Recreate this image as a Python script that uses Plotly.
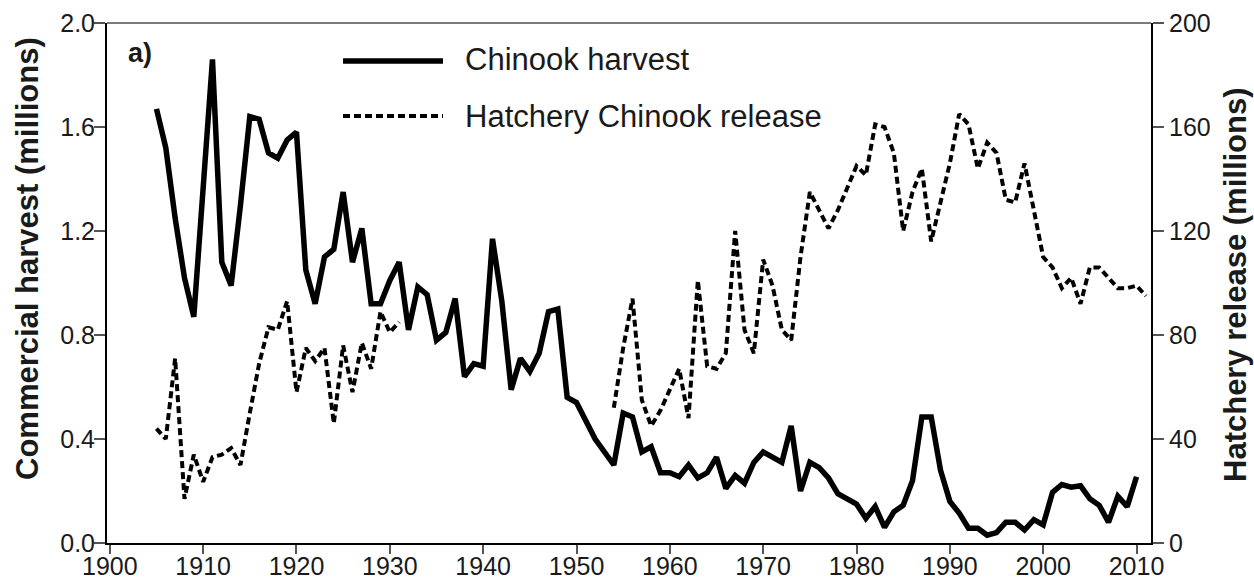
import plotly.graph_objects as go

# Chinook commercial harvest (millions of fish), 1905-2010
harvest_years = list(range(1905, 2011))
harvest_millions = [
    1.67, 1.52, 1.25, 1.02, 0.87, 1.35, 1.86, 1.08, 0.99, 1.30,   # 1905-1914
    1.64, 1.63, 1.50, 1.48, 1.55, 1.58, 1.05, 0.92, 1.10, 1.13,   # 1915-1924
    1.35, 1.08, 1.21, 0.92, 0.92, 1.01, 1.08, 0.82, 0.985, 0.955, # 1925-1934
    0.78, 0.81, 0.94, 0.64, 0.69, 0.68, 1.17, 0.93, 0.59, 0.71,   # 1935-1944
    0.66, 0.73, 0.89, 0.90, 0.56, 0.54, 0.47, 0.40, 0.35, 0.30,   # 1945-1954
    0.50, 0.485, 0.35, 0.37, 0.27, 0.27, 0.255, 0.30, 0.25, 0.27, # 1955-1964
    0.33, 0.21, 0.26, 0.23, 0.31, 0.35, 0.33, 0.31, 0.45, 0.20,   # 1965-1974
    0.31, 0.29, 0.25, 0.19, 0.17, 0.15, 0.095, 0.14, 0.06, 0.12,  # 1975-1984
    0.145, 0.24, 0.485, 0.485, 0.28, 0.16, 0.115, 0.057, 0.057, 0.03,  # 1985-1994
    0.04, 0.08, 0.08, 0.05, 0.09, 0.07, 0.195, 0.225, 0.215, 0.22,     # 1995-2004
    0.17, 0.145, 0.08, 0.18, 0.14, 0.255,                               # 2005-2010
]

# Hatchery Chinook releases (millions of fish), 1905-2011; no record 1932-1953
release_years = list(range(1905, 2012))
release_millions = (
    [44, 40, 71, 17, 34, 23.5, 33, 34, 36.5, 30,        # 1905-1914
     50, 69, 83, 82, 93, 58, 75, 70, 75, 46,            # 1915-1924
     76, 58, 77, 67, 89, 81, 85]                        # 1925-1931
    + [None] * 22                                       # 1932-1953
    + [52, 75, 94, 55, 45, 51, 59, 67, 48, 101,         # 1954-1963
       68, 67, 73, 120, 82, 73, 109, 99, 82, 78,        # 1964-1973
       110, 135, 128, 121, 128, 137, 145, 141.5, 161, 160,  # 1974-1983
       150, 120, 135, 144, 116, 131, 146, 165, 161, 144,    # 1984-1993
       154, 150, 132, 131, 146, 128, 110, 106, 98, 102,     # 1994-2003
       92, 106, 106, 102, 98, 98, 99, 95]                   # 2004-2011
)

x_ticks = list(range(1900, 2011, 10))
left_ticks = [0.0, 0.4, 0.8, 1.2, 1.6, 2.0]
right_ticks = [0, 40, 80, 120, 160, 200]

FONT = "Liberation Sans, Arial, Helvetica, sans-serif"
INK = "#1a1a1a"

W, H = 1254, 587
ML, MR, MT, MB = 107, 103, 23, 44
PW, PH = W - ML - MR, H - MT - MB


def px(x):
    return (x - ML) / PW


def py(y):
    return (H - MB - y) / PH


fig = go.Figure()

fig.add_trace(go.Scatter(
    x=harvest_years, y=harvest_millions, mode="lines",
    line=dict(color="black", width=5.5), name="Chinook harvest",
    showlegend=False,
))
fig.add_trace(go.Scatter(
    x=release_years, y=release_millions, mode="lines", yaxis="y2",
    line=dict(color="black", width=4, dash="7px,4px"),
    connectgaps=False, name="Hatchery Chinook release", showlegend=False,
))

tick_font = dict(family=FONT, size=25, color=INK)

fig.update_layout(
    width=W, height=H,
    margin=dict(l=ML, r=MR, t=MT, b=MB, pad=0, autoexpand=False),
    paper_bgcolor="white", plot_bgcolor="white",
    showlegend=False,
    xaxis=dict(
        range=[1899.7, 2011.55], tickvals=x_ticks, ticks="outside",
        ticklen=9, tickwidth=1.5, tickcolor="#555",
        showline=True, linecolor="black", linewidth=2,
        showgrid=False, zeroline=False, tickfont=tick_font,
        ticklabelstandoff=-9, automargin=False,
    ),
    yaxis=dict(
        range=[0, 2.0], tickvals=left_ticks, tickformat=".1f",
        ticks="outside", ticklen=11, tickwidth=1.5, tickcolor="#555",
        showline=True, linecolor="black", linewidth=2,
        showgrid=False, zeroline=False, tickfont=tick_font,
        ticklabelstandoff=-6, automargin=False,
    ),
    yaxis2=dict(
        range=[0, 200], tickvals=right_ticks, overlaying="y", side="right",
        ticks="outside", ticklen=11, tickwidth=1.5, tickcolor="#555",
        showline=True, linecolor="black", linewidth=2,
        showgrid=False, zeroline=False, tickfont=tick_font,
        ticklabelstandoff=0, automargin=False,
    ),
)

# grey top frame line
fig.add_shape(type="line", xref="paper", yref="paper",
              x0=0, x1=1, y0=1, y1=1,
              line=dict(color="#7a7a7a", width=2))

# legend drawn by hand: line samples and labels
fig.add_shape(type="line", xref="paper", yref="paper",
              x0=px(343), x1=px(443), y0=py(61), y1=py(61),
              line=dict(color="black", width=5.5))
fig.add_shape(type="line", xref="paper", yref="paper",
              x0=px(343), x1=px(443), y0=py(116), y1=py(116),
              line=dict(color="black", width=4, dash="7px,4px"))

legend_font = dict(family=FONT, size=31, color=INK)
fig.add_annotation(xref="paper", yref="paper", x=px(463), y=py(60),
                   xanchor="left", yanchor="middle", showarrow=False,
                   text="Chinook harvest", font=legend_font)
fig.add_annotation(xref="paper", yref="paper", x=px(463), y=py(116),
                   xanchor="left", yanchor="middle", showarrow=False,
                   text="Hatchery Chinook release", font=legend_font)

# panel label
fig.add_annotation(xref="paper", yref="paper", x=px(126), y=py(53),
                   xanchor="left", yanchor="middle", showarrow=False,
                   text="<b>a)</b>",
                   font=dict(family=FONT, size=27, color=INK))

# axis titles
title_font = dict(family=FONT, size=31, color=INK)
fig.add_annotation(xref="paper", yref="paper", x=px(27), y=py(259),
                   xanchor="center", yanchor="middle", showarrow=False,
                   textangle=-90, text="<b>Commercial harvest (millions)</b>",
                   font=title_font)
fig.add_annotation(xref="paper", yref="paper", x=px(1235), y=py(285),
                   xanchor="center", yanchor="middle", showarrow=False,
                   textangle=-90, text="<b>Hatchery release (millions)</b>",
                   font=title_font)

fig.write_html("out.html")
